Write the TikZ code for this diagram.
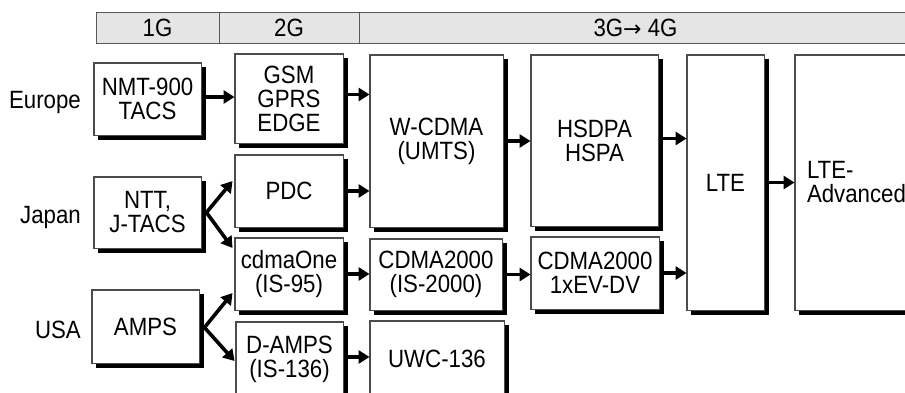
\documentclass[tikz,border=0pt]{standalone}
\usepackage{fontspec}
\setmainfont{Liberation Sans}[FakeStretch=0.89]
\newfontfamily\arrowfont{DejaVu Sans}
\usetikzlibrary{arrows.meta}
\newcommand\shadowof[1]{%
  \draw[line width=4.5pt] ([xshift=2.25pt,yshift=-4.5pt]#1.north east) -- ([xshift=2.25pt,yshift=-2.25pt]#1.south east) -- ([xshift=4.5pt,yshift=-2.25pt]#1.south west);%
  \draw[draw=black!70, line width=0.9pt] (#1.south west) rectangle (#1.north east);}
\begin{document}
\begin{tikzpicture}[x=1pt,y=-1pt,
  every node/.style={font=\fontsize{25}{24}\selectfont, inner sep=0pt, align=center},
  box/.style={draw=black!70, line width=0.9pt, fill=white},
  hdr/.style={draw=black!65, line width=0.9pt, fill=black!10},
  arr/.style={line width=3.6pt, -{Triangle[length=11pt,width=13pt]}},
  region/.style={anchor=east}]
\useasboundingbox (0,0) rectangle (905,392);
\clip (0,0) rectangle (905,392);
% header
\node[hdr, minimum width=123pt, minimum height=31pt] (h1) at (157.5,27.5) {1G};
\node[hdr, minimum width=140pt, minimum height=31pt] (h2) at (289,27.5) {2G};
\node[hdr, minimum width=553pt, minimum height=31pt] (h3) at (635.5,27.5) {3G{\arrowfont\fontsize{22}{22}\selectfont→} 4G};
% regions
\node[region] (eu) at (81,102) {Europe};
\node[region] (jp) at (81,217) {Japan};
\node[region] (us) at (81,330) {USA};
% boxes
\node[box, minimum width=107pt, minimum height=72pt] (nmt) at (147.5,99) {NMT-900\\TACS};
\node[box, minimum width=108pt, minimum height=89pt] (gsm) at (289,98.5) {GSM\\GPRS\\EDGE};
\node[box, minimum width=108pt, minimum height=72pt] (pdc) at (289,191) {PDC};
\node[box, minimum width=133pt, minimum height=172pt] (wcdma) at (436.5,141) {W-CDMA\\(UMTS)};
\node[box, minimum width=127pt, minimum height=171pt] (hsdpa) at (594.5,140.5) {HSDPA\\HSPA};
\node[box, minimum width=77pt, minimum height=255pt] (lte) at (725.5,182.5) {LTE};
\node[box, minimum width=155pt, minimum height=255pt, text width=131pt, align=left, inner xsep=12pt] (ltea) at (872.5,182.5) {LTE-\\Advanced};
\node[box, minimum width=107pt, minimum height=71pt] (ntt) at (147.5,212.5) {NTT,\\J-TACS};
\node[box, minimum width=107pt, minimum height=73pt] (amps) at (145.5,326.5) {AMPS};
\node[box, minimum width=108pt, minimum height=72pt] (cdmaone) at (289,274) {cdmaOne\\(IS-95)};
\node[box, minimum width=107pt, minimum height=74pt] (damps) at (289.5,359) {D-AMPS\\(IS-136)};
\node[box, minimum width=132pt, minimum height=71pt] (cdma2k) at (436,274.5) {CDMA2000\\(IS-2000)};
\node[box, minimum width=134pt, minimum height=76pt] (uwc) at (437,359) {UWC-136};
\node[box, minimum width=128pt, minimum height=72pt] (evdv) at (595,273) {CDMA2000\\1xEV-DV};
% shadows
\shadowof{nmt}\shadowof{gsm}\shadowof{pdc}\shadowof{wcdma}\shadowof{hsdpa}
\shadowof{lte}\shadowof{ltea}\shadowof{ntt}\shadowof{amps}\shadowof{cdmaone}
\shadowof{damps}\shadowof{cdma2k}\shadowof{uwc}\shadowof{evdv}
% arrows
\draw[arr] ([xshift=5pt,yshift=2pt]nmt.east) -- ([yshift=2pt]nmt.east -| gsm.west);
\draw[arr] ([xshift=5pt,yshift=4pt]gsm.east) -- ([yshift=4pt]gsm.east -| wcdma.west);
\draw[arr] ([xshift=5pt]pdc.east) -- (pdc.east -| wcdma.west);
\draw[arr] ([xshift=5pt]wcdma.east) -- (wcdma.east -| hsdpa.west);
\draw[arr] ([xshift=5pt,yshift=2pt]hsdpa.east) -- ([yshift=2pt]hsdpa.east -| lte.west);
\draw[arr] ([xshift=5pt]lte.east) -- (lte.east -| ltea.west);
\draw[arr] ([xshift=5pt]cdmaone.east) -- (cdmaone.east -| cdma2k.west);
\draw[arr] ([xshift=5pt,yshift=2pt]damps.east) -- ([yshift=2pt]damps.east -| uwc.west);
\draw[arr] ([xshift=5pt]cdma2k.east) -- (cdma2k.east -| evdv.west);
\draw[arr] ([xshift=5pt]evdv.east) -- (evdv.east -| lte.west);
\draw[arr] ([xshift=5pt]ntt.east) -- ([xshift=-2pt,yshift=10pt]pdc.west);
\draw[arr] ([xshift=5pt]ntt.east) -- ([xshift=-2pt,yshift=26pt]cdmaone.west);
\draw[arr] ([xshift=5pt,yshift=-1pt]amps.east) -- ([xshift=-2pt,yshift=-19pt]cdmaone.west);
\draw[arr] ([xshift=5pt,yshift=-1pt]amps.east) -- ([xshift=-1pt,yshift=-2pt]damps.west);
\end{tikzpicture}
\end{document}
